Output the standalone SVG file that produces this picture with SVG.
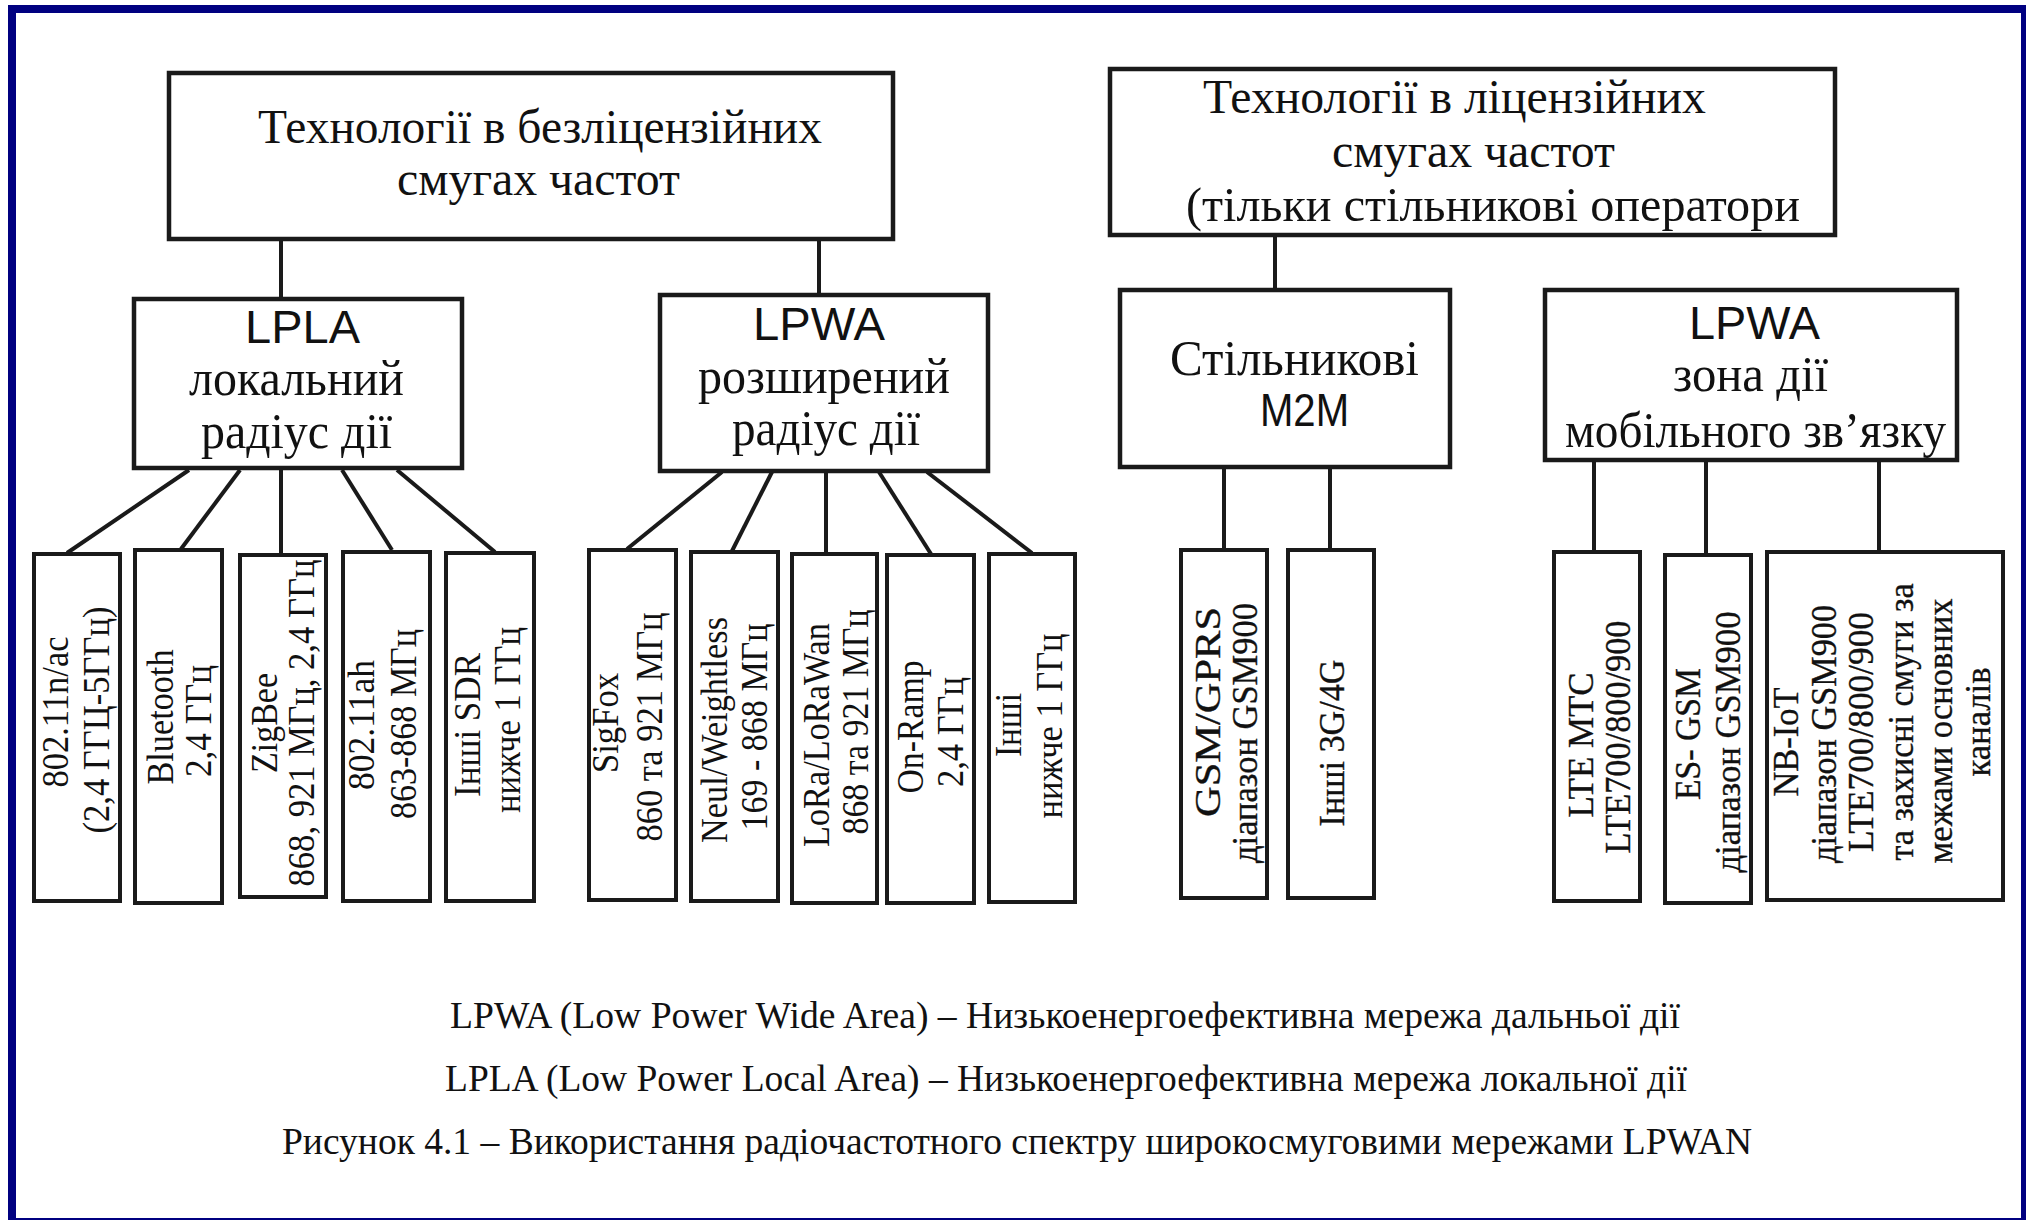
<svg xmlns="http://www.w3.org/2000/svg" width="2026" height="1220" viewBox="0 0 2026 1220">
  <style>
    .box { fill: #fff; stroke: #1a1a1a; stroke-width: 4.5; }
    .leaf { fill: #fff; stroke: #1a1a1a; stroke-width: 4; }
    .con { stroke: #1a1a1a; stroke-width: 4; fill: none; stroke-linecap: butt; }
    .serif { font-family: "Liberation Serif", "Times New Roman", serif; fill: #111; }
    .sans { font-family: "Liberation Sans", Arial, sans-serif; fill: #111; }
    .t45 { font-size: 48px; }
    .t47 { font-size: 50px; }
    .lf { font-size: 37px; }
    .lfr { font-size: 36px; stroke: #111; stroke-width: 0.35; }
    .leg { font-size: 38px; }
  </style>

  <!-- page background and navy frame -->
  <rect x="0" y="0" width="2026" height="1220" fill="#fff"/>
  <rect x="12" y="9" width="2013" height="1213" fill="none" stroke="#000080" stroke-width="8"/>

  <!-- connectors -->
  <g id="connectors">
    <line class="con" x1="281" y1="240" x2="281" y2="298"/>
    <line class="con" x1="819" y1="240" x2="819" y2="294"/>
    <line class="con" x1="1275" y1="236" x2="1275" y2="289"/>

    <line class="con" x1="189" y1="470" x2="67" y2="553"/>
    <line class="con" x1="240" y1="470" x2="181" y2="549"/>
    <line class="con" x1="281" y1="470" x2="281" y2="554"/>
    <line class="con" x1="342" y1="470" x2="392" y2="550"/>
    <line class="con" x1="397" y1="470" x2="495" y2="552"/>

    <line class="con" x1="722" y1="472" x2="627" y2="549"/>
    <line class="con" x1="772" y1="472" x2="732" y2="551"/>
    <line class="con" x1="826" y1="472" x2="826" y2="553"/>
    <line class="con" x1="879" y1="472" x2="931" y2="554"/>
    <line class="con" x1="927" y1="472" x2="1032" y2="553"/>

    <line class="con" x1="1224" y1="468" x2="1224" y2="549"/>
    <line class="con" x1="1330" y1="468" x2="1330" y2="549"/>

    <line class="con" x1="1594" y1="461" x2="1594" y2="551"/>
    <line class="con" x1="1706" y1="461" x2="1706" y2="554"/>
    <line class="con" x1="1879" y1="461" x2="1879" y2="551"/>
  </g>

  <!-- top level: unlicensed bands -->
  <g id="unlicensed">
    <rect class="box" x="169" y="73" width="724" height="166"/>
    <text class="serif t45" x="258" y="143" textLength="564" lengthAdjust="spacingAndGlyphs">Технології в безліцензійних</text>
    <text class="serif t45" x="397" y="195" textLength="283" lengthAdjust="spacingAndGlyphs">смугах частот</text>
  </g>

  <!-- top level: licensed bands -->
  <g id="licensed">
    <rect class="box" x="1110" y="69" width="725" height="166"/>
    <text class="serif t45" x="1203" y="113" textLength="503" lengthAdjust="spacingAndGlyphs">Технології в ліцензійних</text>
    <text class="serif t45" x="1332" y="167" textLength="283" lengthAdjust="spacingAndGlyphs">смугах частот</text>
    <text class="serif t45" x="1186" y="221" textLength="614" lengthAdjust="spacingAndGlyphs">(тільки стільникові оператори</text>
  </g>

  <!-- second level -->
  <g id="lpla">
    <rect class="box" x="134" y="299" width="328" height="169"/>
    <text class="sans" font-size="46" x="245" y="343" textLength="115" lengthAdjust="spacingAndGlyphs">LPLA</text>
    <text class="serif t47" x="189" y="395" textLength="215" lengthAdjust="spacingAndGlyphs">локальний</text>
    <text class="serif t47" x="201" y="448" textLength="191" lengthAdjust="spacingAndGlyphs">радіус дії</text>
  </g>

  <g id="lpwa-unlicensed">
    <rect class="box" x="660" y="295" width="328" height="176"/>
    <text class="sans" font-size="46" x="753" y="340" textLength="132" lengthAdjust="spacingAndGlyphs">LPWA</text>
    <text class="serif t47" x="698" y="393" textLength="252" lengthAdjust="spacingAndGlyphs">розширений</text>
    <text class="serif t47" x="732" y="445" textLength="188" lengthAdjust="spacingAndGlyphs">радіус дії</text>
  </g>

  <g id="cellular-m2m">
    <rect class="box" x="1120" y="290" width="330" height="177"/>
    <text class="serif t47" x="1170" y="375" textLength="249" lengthAdjust="spacingAndGlyphs">Стільникові</text>
    <text class="sans" font-size="47" x="1260" y="426" textLength="89" lengthAdjust="spacingAndGlyphs">M2M</text>
  </g>

  <g id="lpwa-mobile">
    <rect class="box" x="1545" y="290" width="412" height="170"/>
    <text class="sans" font-size="46" x="1689" y="339" textLength="131" lengthAdjust="spacingAndGlyphs">LPWA</text>
    <text class="serif t47" x="1673" y="391" textLength="155" lengthAdjust="spacingAndGlyphs">зона дії</text>
    <text class="serif t47" x="1565" y="447" textLength="381" lengthAdjust="spacingAndGlyphs">мобільного зв’язку</text>
  </g>

  <!-- leaves: local area -->
  <g id="wifi">
    <rect class="leaf" x="34" y="554" width="86" height="347"/>
    <text class="serif lf" text-anchor="middle" transform="translate(68 712) rotate(-90)" textLength="151" lengthAdjust="spacingAndGlyphs">802.11n/ac</text>
    <text class="serif lf" text-anchor="middle" transform="translate(109 720) rotate(-90)" textLength="227" lengthAdjust="spacingAndGlyphs">(2,4 ГГЦ-5ГГц)</text>
  </g>
  <g id="bluetooth">
    <rect class="leaf" x="135" y="550" width="87" height="353"/>
    <text class="serif lf" text-anchor="middle" transform="translate(173 717) rotate(-90)" textLength="135" lengthAdjust="spacingAndGlyphs">Bluetooth</text>
    <text class="serif lf" text-anchor="middle" transform="translate(211 721) rotate(-90)" textLength="112" lengthAdjust="spacingAndGlyphs">2,4 ГГц</text>
  </g>
  <g id="zigbee">
    <rect class="leaf" x="240" y="555" width="86" height="342"/>
    <text class="serif lf" text-anchor="middle" transform="translate(277 723) rotate(-90)" textLength="100" lengthAdjust="spacingAndGlyphs">ZigBee</text>
    <text class="serif lf" text-anchor="middle" transform="translate(314 723) rotate(-90)" textLength="327" lengthAdjust="spacingAndGlyphs">868, 921 МГц, 2,4 ГГц</text>
  </g>
  <g id="wifi-ah">
    <rect class="leaf" x="343" y="552" width="87" height="349"/>
    <text class="serif lf" text-anchor="middle" transform="translate(374 725) rotate(-90)" textLength="130" lengthAdjust="spacingAndGlyphs">802.11ah</text>
    <text class="serif lf" text-anchor="middle" transform="translate(416 724) rotate(-90)" textLength="190" lengthAdjust="spacingAndGlyphs">863-868 МГц</text>
  </g>
  <g id="other-sdr">
    <rect class="leaf" x="446" y="553" width="88" height="348"/>
    <text class="serif lf" text-anchor="middle" transform="translate(480 725) rotate(-90)" textLength="144" lengthAdjust="spacingAndGlyphs">Інші SDR</text>
    <text class="serif lf" text-anchor="middle" transform="translate(520 720) rotate(-90)" textLength="186" lengthAdjust="spacingAndGlyphs">нижче 1 ГГц</text>
  </g>

  <!-- leaves: wide area, unlicensed -->
  <g id="sigfox">
    <rect class="leaf" x="589" y="550" width="87" height="350"/>
    <text class="serif lf" text-anchor="middle" transform="translate(618 723) rotate(-90)" textLength="100" lengthAdjust="spacingAndGlyphs">SigFox</text>
    <text class="serif lf" text-anchor="middle" transform="translate(662 727) rotate(-90)" textLength="229" lengthAdjust="spacingAndGlyphs">860 та 921 МГц</text>
  </g>
  <g id="weightless">
    <rect class="leaf" x="691" y="552" width="87" height="349"/>
    <text class="serif lf" text-anchor="middle" transform="translate(727 730) rotate(-90)" textLength="226" lengthAdjust="spacingAndGlyphs">Neul/Weightless</text>
    <text class="serif lf" text-anchor="middle" transform="translate(767 727) rotate(-90)" textLength="207" lengthAdjust="spacingAndGlyphs">169 - 868 МГц</text>
  </g>
  <g id="lora">
    <rect class="leaf" x="792" y="554" width="85" height="349"/>
    <text class="serif lf" text-anchor="middle" transform="translate(829 735) rotate(-90)" textLength="224" lengthAdjust="spacingAndGlyphs">LoRa/LoRaWan</text>
    <text class="serif lf" text-anchor="middle" transform="translate(868 722) rotate(-90)" textLength="225" lengthAdjust="spacingAndGlyphs">868 та 921 МГц</text>
  </g>
  <g id="on-ramp">
    <rect class="leaf" x="887" y="555" width="87" height="348"/>
    <text class="serif lf" text-anchor="middle" transform="translate(923 727) rotate(-90)" textLength="133" lengthAdjust="spacingAndGlyphs">On-Ramp</text>
    <text class="serif lf" text-anchor="middle" transform="translate(963 732) rotate(-90)" textLength="110" lengthAdjust="spacingAndGlyphs">2,4 ГГц</text>
  </g>
  <g id="other-sub-ghz">
    <rect class="leaf" x="989" y="554" width="86" height="348"/>
    <text class="serif lf" text-anchor="middle" transform="translate(1021 725) rotate(-90)" textLength="64" lengthAdjust="spacingAndGlyphs">Інші</text>
    <text class="serif lf" text-anchor="middle" transform="translate(1062 726) rotate(-90)" textLength="185" lengthAdjust="spacingAndGlyphs">нижче 1 ГГц</text>
  </g>

  <!-- leaves: cellular M2M -->
  <g id="gsm-gprs">
    <rect class="leaf" x="1181" y="550" width="86" height="348"/>
    <text class="serif lfr" text-anchor="middle" transform="translate(1220 712) rotate(-90)" textLength="210" lengthAdjust="spacingAndGlyphs">GSM/GPRS</text>
    <text class="serif lfr" text-anchor="middle" transform="translate(1257 733) rotate(-90)" textLength="260" lengthAdjust="spacingAndGlyphs">діапазон  GSM900</text>
  </g>
  <g id="other-3g-4g">
    <rect class="leaf" x="1288" y="550" width="86" height="348"/>
    <text class="serif lfr" text-anchor="middle" transform="translate(1344 743) rotate(-90)" textLength="167" lengthAdjust="spacingAndGlyphs">Інші 3G/4G</text>
  </g>

  <!-- leaves: mobile LPWA -->
  <g id="lte-mtc">
    <rect class="leaf" x="1554" y="552" width="86" height="349"/>
    <text class="serif lfr" text-anchor="middle" transform="translate(1593 745) rotate(-90)" textLength="145" lengthAdjust="spacingAndGlyphs">LTE MTC</text>
    <text class="serif lfr" text-anchor="middle" transform="translate(1630 737) rotate(-90)" textLength="233" lengthAdjust="spacingAndGlyphs">LTE700/800/900</text>
  </g>
  <g id="ec-gsm">
    <rect class="leaf" x="1665" y="555" width="86" height="348"/>
    <text class="serif lfr" text-anchor="middle" transform="translate(1700 734) rotate(-90)" textLength="132" lengthAdjust="spacingAndGlyphs">ES-  GSM</text>
    <text class="serif lfr" text-anchor="middle" transform="translate(1740 742) rotate(-90)" textLength="261" lengthAdjust="spacingAndGlyphs">діапазон  GSM900</text>
  </g>
  <g id="nb-iot">
    <rect class="leaf" x="1767" y="552" width="236" height="348"/>
    <text class="serif lfr" text-anchor="middle" transform="translate(1798 742) rotate(-90)" textLength="109" lengthAdjust="spacingAndGlyphs">NB-IoT</text>
    <text class="serif lfr" text-anchor="middle" transform="translate(1836 734) rotate(-90)" textLength="258" lengthAdjust="spacingAndGlyphs">діапазон  GSM900</text>
    <text class="serif lfr" text-anchor="middle" transform="translate(1873 732) rotate(-90)" textLength="240" lengthAdjust="spacingAndGlyphs">LTE700/800/900</text>
    <text class="serif lfr" text-anchor="middle" transform="translate(1913 722) rotate(-90)" textLength="277" lengthAdjust="spacingAndGlyphs">та захисні смуги за</text>
    <text class="serif lfr" text-anchor="middle" transform="translate(1952 731) rotate(-90)" textLength="265" lengthAdjust="spacingAndGlyphs">межами основних</text>
    <text class="serif lfr" text-anchor="middle" transform="translate(1990 722) rotate(-90)" textLength="109" lengthAdjust="spacingAndGlyphs">каналів</text>
  </g>

  <!-- legend and caption -->
  <g id="legend">
    <text class="serif leg" x="450" y="1028" textLength="1230" lengthAdjust="spacingAndGlyphs">LPWA (Low Power Wide Area) – Низькоенергоефективна мережа дальньої дії</text>
    <text class="serif leg" x="445" y="1091" textLength="1242" lengthAdjust="spacingAndGlyphs">LPLA (Low Power Local Area) – Низькоенергоефективна мережа локальної дії</text>
    <text class="serif leg" x="282" y="1154" textLength="1470" lengthAdjust="spacingAndGlyphs">Рисунок 4.1 – Використання радіочастотного спектру широкосмуговими мережами LPWAN</text>
  </g>
</svg>
